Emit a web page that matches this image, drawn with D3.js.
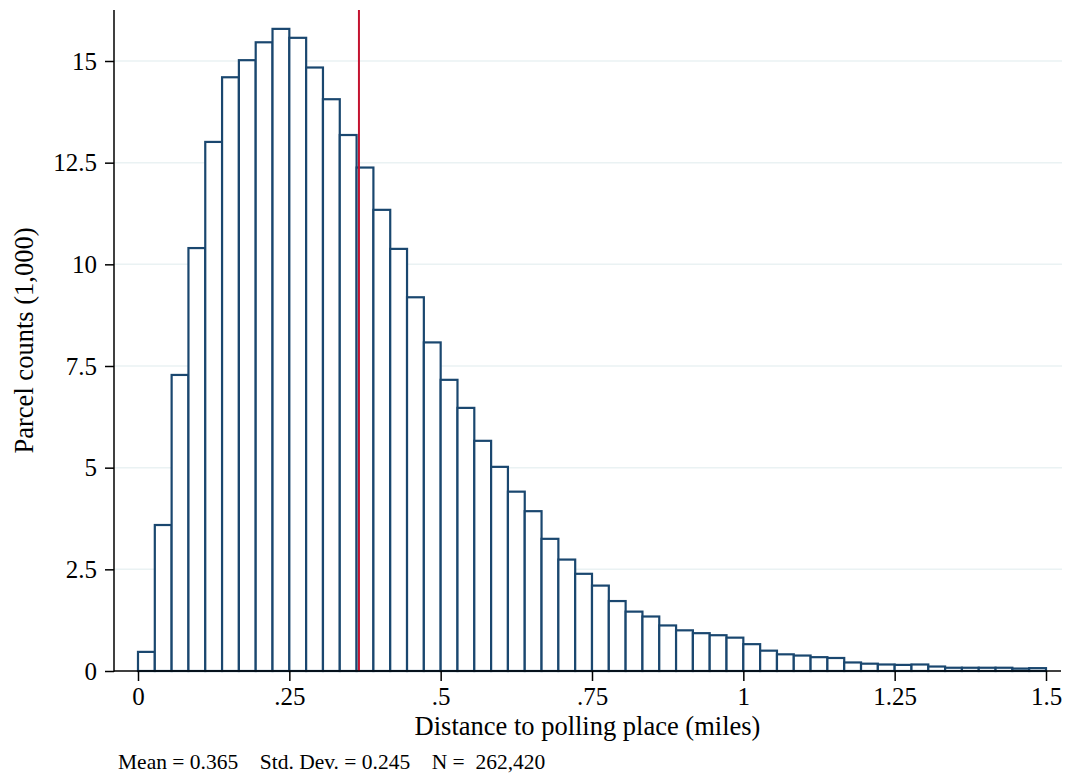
<!DOCTYPE html>
<html>
<head>
<meta charset="utf-8">
<script src="https://cdn.jsdelivr.net/npm/d3@7.9.0/dist/d3.min.js"></script>
<style>
  body { margin: 0; background: #fff; }
  svg { display: block; font-family: "Liberation Serif", "Times New Roman", serif; }
</style>
</head>
<body>
<svg width="1069" height="779"></svg>
<script>
// histogram of parcel distance to polling place, 54 bins from 0 to 1.5 miles
const binMin = 0;
const binMax = 1.5;
const counts = [0.47, 3.59, 7.28, 10.40, 13.01, 14.60, 15.02, 15.46, 15.79, 15.57,
  14.84, 14.06, 13.18, 12.38, 11.34, 10.38, 9.19, 8.08, 7.16, 6.47,
  5.66, 5.02, 4.41, 3.93, 3.25, 2.74, 2.39, 2.10, 1.72, 1.46,
  1.34, 1.12, 1.00, 0.93, 0.88, 0.82, 0.66, 0.50, 0.41, 0.38,
  0.34, 0.32, 0.21, 0.18, 0.16, 0.15, 0.16, 0.11, 0.08, 0.08,
  0.08, 0.08, 0.06, 0.07];
const meanValue = 0.365;
const xTicks = [0, 0.25, 0.5, 0.75, 1, 1.25, 1.5];
const xTickLabels = ["0", ".25", ".5", ".75", "1", "1.25", "1.5"];
const yTicks = [0, 2.5, 5, 7.5, 10, 12.5, 15];
const yTickLabels = ["0", "2.5", "5", "7.5", "10", "12.5", "15"];

const svg = d3.select("svg");
const plotLeft = 114, plotRight = 1061, plotTop = 10, plotBottom = 671;

const x = d3.scaleLinear().domain([binMin, binMax]).range([138, 1046]);
const y = d3.scaleLinear().domain([0, 15]).range([plotBottom, 61]);
const binW = (binMax - binMin) / counts.length;

// gridlines
svg.append("g")
  .selectAll("line")
  .data(yTicks.filter(d => d > 0))
  .join("line")
  .attr("x1", plotLeft).attr("x2", plotRight + 1)
  .attr("y1", d => y(d)).attr("y2", d => y(d))
  .attr("stroke", "#eaf2f3")
  .attr("stroke-width", 1.5);

// bars
svg.append("g")
  .selectAll("rect")
  .data(counts)
  .join("rect")
  .attr("x", (d, i) => x(binMin + i * binW))
  .attr("width", (d, i) => x(binMin + (i + 1) * binW) - x(binMin + i * binW))
  .attr("y", d => y(d))
  .attr("height", d => y(0) - y(d))
  .attr("fill", "#fff")
  .attr("stroke", "#1a476f")
  .attr("stroke-width", 2.2);

// mean line
svg.append("line")
  .attr("x1", x(meanValue)).attr("x2", x(meanValue))
  .attr("y1", plotTop).attr("y2", plotBottom)
  .attr("stroke", "#c4122f")
  .attr("stroke-width", 2);

// axes
const xAxis = svg.append("g")
  .attr("transform", `translate(0,${plotBottom})`)
  .call(d3.axisBottom(x).tickValues(xTicks)
    .tickFormat((d, i) => xTickLabels[i]).tickSize(10).tickPadding(6).tickSizeOuter(0));
xAxis.select(".domain").remove();
xAxis.selectAll("line").attr("stroke", "#000").attr("stroke-width", 1.5);
xAxis.selectAll("text").attr("font-size", 25).attr("fill", "#000")
  .attr("font-family", "Liberation Serif, serif");

const yAxis = svg.append("g")
  .attr("transform", `translate(${plotLeft},0)`)
  .call(d3.axisLeft(y).tickValues(yTicks)
    .tickFormat((d, i) => yTickLabels[i]).tickSize(9).tickPadding(8).tickSizeOuter(0));
yAxis.select(".domain").remove();
yAxis.selectAll("line").attr("stroke", "#000").attr("stroke-width", 1.5);
yAxis.selectAll("text").attr("font-size", 25).attr("fill", "#000")
  .attr("font-family", "Liberation Serif, serif");

svg.append("line")
  .attr("x1", plotLeft).attr("x2", plotLeft)
  .attr("y1", plotTop).attr("y2", plotBottom + 0.75)
  .attr("stroke", "#000").attr("stroke-width", 1.5);
svg.append("line")
  .attr("x1", plotLeft).attr("x2", plotRight)
  .attr("y1", plotBottom).attr("y2", plotBottom)
  .attr("stroke", "#000").attr("stroke-width", 1.5);

// titles
svg.append("text")
  .attr("x", (plotLeft + plotRight) / 2).attr("y", 735)
  .attr("text-anchor", "middle")
  .attr("font-size", 26.5)
  .text("Distance to polling place (miles)");

svg.append("text")
  .attr("transform", `translate(33,${(plotTop + plotBottom) / 2}) rotate(-90)`)
  .attr("text-anchor", "middle")
  .attr("font-size", 26.5)
  .text("Parcel counts (1,000)");

svg.append("text")
  .attr("x", 118).attr("y", 769)
  .attr("font-size", 21.5)
  .attr("xml:space", "preserve")
  .style("white-space", "pre")
  .text("Mean = 0.365    Std. Dev. = 0.245    N =  262,420");
</script>
</body>
</html>
